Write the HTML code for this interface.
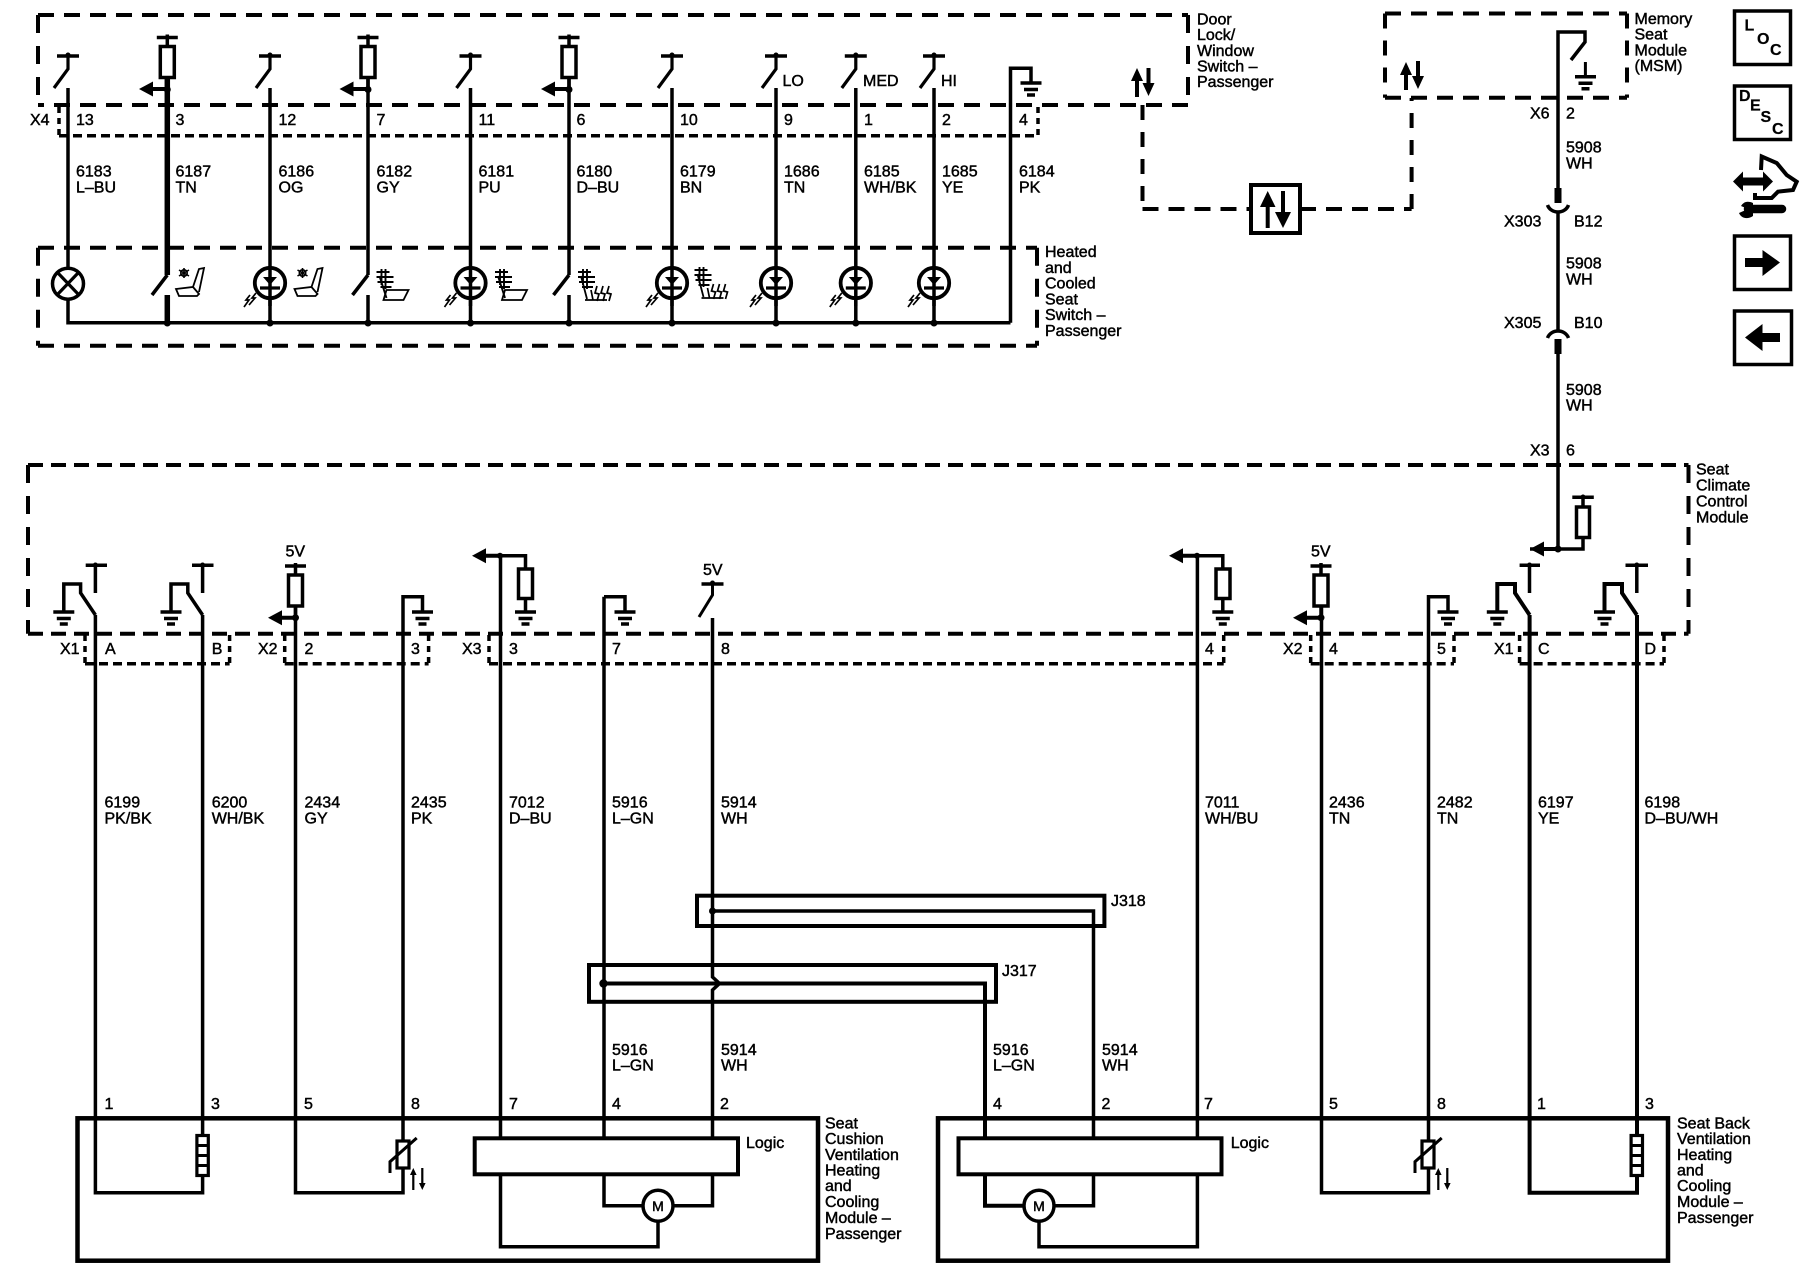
<!DOCTYPE html>
<html><head><meta charset="utf-8"><title>Wiring diagram</title>
<style>
html,body{margin:0;padding:0;background:#fff}
svg{display:block}
text{font-family:"Liberation Sans",sans-serif;font-size:16px;fill:#000;stroke:#000;stroke-width:.45px}
.w{fill:none;stroke:#000;stroke-width:3.5}
.t{fill:none;stroke:#000;stroke-width:5.5}
.n{fill:none;stroke:#000;stroke-width:3}
.d{fill:none;stroke:#000;stroke-width:4;stroke-dasharray:16 10}
.v{fill:none;stroke:#000;stroke-width:4;stroke-dasharray:18 13}
.l{fill:none;stroke:#000;stroke-width:4;stroke-dasharray:15 12}
.s{fill:none;stroke:#000;stroke-width:3.5;stroke-dasharray:9 5}
.c{fill:none;stroke:#000;stroke-width:3.5;stroke-dasharray:6 5}
.m{fill:none;stroke:#000;stroke-width:4.5}
.b{fill:#000;stroke:none}
.i{font-weight:bold;stroke-width:.2px}
</style></head><body>
<svg xmlns="http://www.w3.org/2000/svg" width="1800" height="1280" viewBox="0 0 1800 1280">
<defs>
<g id="gnd"><path d="M-10.500 0H10.500M-7 6.500H7M-4 12H4" fill="none" stroke="#000" stroke-width="3.500"/></g>
<g id="sw"><path d="M-11 0H11" stroke="#000" stroke-width="3.500"/><circle cx="0" cy="-1" r="2.500" fill="#000"/><path d="M0 0V13L-14 32" fill="none" stroke="#000" stroke-width="3.200"/></g>
<g id="fuse"><path d="M-10.500 0H10.500M0 -3V9" stroke="#000" stroke-width="3.500"/><rect x="-7" y="9" width="14" height="31" fill="#fff" stroke="#000" stroke-width="3.500"/><path d="M0 40V52" stroke="#000" stroke-width="3.500"/></g>
<path id="arl" d="M0 0L14 -7.500V-2H28V2H14V7.500Z" fill="#000"/>
<g id="led"><circle cx="0" cy="0" r="15.200" fill="#fff" stroke="#000" stroke-width="3.800"/><path d="M0 -17V23" stroke="#000" stroke-width="3.500"/><path d="M-7 -6H7L0 2Z" fill="#000"/><path d="M-10 5H10" stroke="#000" stroke-width="3.200"/><path d="M-14 10L-18 15L-15 15L-21 22M-20 12L-24 17L-21 17L-26 24" fill="none" stroke="#000" stroke-width="1.700"/></g>
<g id="snow" fill="none" stroke="#000"><path d="M0 22L17 20L23 27L21 29H3ZM17 20L23 2L28 1L23 25" stroke-width="1.800"/><path d="M8 1V11M3 3L13 9M3 9L13 3" stroke-width="1.600"/><circle cx="8" cy="6" r="3.200" stroke-width="1.600"/></g>
<g id="heat" fill="none" stroke="#000"><path d="M11 22H33L28 32H8Z" stroke-width="1.800"/><path d="M4 8L11 30M1 4H14M1 9H18M2 14H18M5 19H16M6 1V17M10 1V21" stroke-width="1.900"/></g>
<g id="heatb" fill="none" stroke="#000"><path d="M8 32H30M4 8L10 31" stroke-width="1.800"/><path d="M1 4H14M1 9H18M2 14H18M5 19H16M6 1V17M10 1V21" stroke-width="1.900"/><path d="M14 22L16 32M20 18L18 25L22 26L20 33M26 18L24 25L28 26L26 33M32 18L30 25L34 26L32 33" stroke-width="1.700"/></g>
<g id="therm" fill="none" stroke="#000"><rect x="-6" y="3" width="12" height="27" fill="#fff" stroke-width="3.200"/><path d="M13.700 0L-13 23.700V35" stroke-width="3"/><path d="M10.300 34V52M19.300 30V48" stroke-width="2.200"/><path d="M10.300 30L7 37H13.600ZM19.300 52L16 45H22.600Z" fill="#000" stroke="none"/></g>
<g id="heater"><rect x="-5.700" y="0" width="11.400" height="40" fill="#fff" stroke="#000" stroke-width="3.200"/><path d="M-5.700 10H5.700M-5.700 20H5.700M-5.700 30H5.700" stroke="#000" stroke-width="3"/></g>
</defs>

<!-- door lock switch box -->
<path class="d" d="M1188 105H38"/><path class="d" d="M38 15H1188"/><path class="v" d="M38 15V105"/><path class="v" d="M1188 15V105"/>
<path class="c" d="M59 107V136"/><path class="s" d="M59 135.700H1038"/><path class="c" d="M1038 107V136"/>

<!-- heated seat switch box -->
<path class="d" d="M38 247.700H1037"/><path class="d" d="M38 345.700H1037"/><path class="v" d="M38 247.700V345.700"/><path class="v" d="M1037 247.700V345.700"/>

<!-- module link dashed -->
<path class="l" d="M1142.500 105V209"/><path class="d" d="M1142.500 209H1250"/><path class="d" d="M1300 209H1411.600"/><path class="l" d="M1411.600 209V98"/>
<rect x="1251" y="185" width="49" height="48" fill="#fff" stroke="#000" stroke-width="4"/>
<path class="b" d="M1267.700 191L1260 207H1265.700V228H1269.700V207H1275.500ZM1283 228L1275 212H1281V191H1285V212H1291Z"/>
<path class="b" d="M1137 68L1131 81H1135V97H1139V81H1143ZM1148.500 96L1142.500 83H1146.500V68H1150.500V83H1154.500Z"/>
<path class="b" d="M1406 62L1400 75H1404V90H1408V75H1412ZM1418 89L1412 76H1416V61H1420V76H1424Z"/>

<!-- top row wires -->
<path class="w" d="M68 88V322.700H1010.500"/>
<path class="t" d="M167.300 78V275"/><path class="t" d="M167.300 295V322"/>
<path class="w" d="M270 88V322"/>
<path class="w" d="M368 78V275"/><path class="w" d="M368 295V322"/>
<path class="w" d="M470.500 88V322"/>
<path class="w" d="M569 78V275"/><path class="w" d="M569 295V322"/>
<path class="w" d="M672 88V322M776 88V322M855.800 88V322M934 88V322"/>
<path class="w" d="M1031 82V68.300H1010.500V322.700"/>
<use href="#gnd" x="1031" y="83"/>

<use href="#sw" x="68" y="56"/><use href="#sw" x="270" y="56"/><use href="#sw" x="470.500" y="56"/><use href="#sw" x="672" y="56"/><use href="#sw" x="776" y="56"/><use href="#sw" x="855.800" y="56"/><use href="#sw" x="934" y="56"/>
<use href="#fuse" x="167.300" y="37.500"/><use href="#fuse" x="368" y="37.500"/><use href="#fuse" x="569" y="37.500"/>
<use href="#arl" x="139" y="89"/><use href="#arl" x="339.500" y="89"/><use href="#arl" x="541" y="89"/>
<g class="b"><circle cx="167.300" cy="89.500" r="3.500"/><circle cx="368" cy="89.500" r="3.500"/><circle cx="569" cy="89.500" r="3.500"/>
<circle cx="167.300" cy="323" r="3.500"/><circle cx="270" cy="323" r="3.500"/><circle cx="368" cy="323" r="3.500"/><circle cx="470.500" cy="323" r="3.500"/><circle cx="569" cy="323" r="3.500"/><circle cx="672" cy="323" r="3.500"/><circle cx="776" cy="323" r="3.500"/><circle cx="855.800" cy="323" r="3.500"/><circle cx="934" cy="323" r="3.500"/></g>

<!-- lamp -->
<ellipse cx="68" cy="283.700" rx="15.500" ry="15.500" fill="#fff" stroke="#000" stroke-width="3.500"/>
<path d="M57 272L79 295M79 272L57 295" stroke="#000" stroke-width="3.200"/>
<!-- lower switches -->
<path class="w" d="M167.300 275L152 295M368 275L352.500 295M569 275L553.500 295"/>
<use href="#led" x="270" y="283"/><use href="#led" x="470.500" y="283"/><use href="#led" x="672" y="283"/><use href="#led" x="776" y="283"/><use href="#led" x="855.800" y="283"/><use href="#led" x="934" y="283"/>
<use href="#snow" x="176" y="267"/><use href="#snow" x="294.500" y="267"/>
<use href="#heat" x="375.500" y="268"/><use href="#heat" x="494" y="268"/>
<use href="#heatb" x="577" y="268"/><use href="#heatb" x="693.500" y="266"/>

<!-- Top row text -->
<text x="30" y="125">X4</text>
<text x="76" y="125">13</text><text x="175.500" y="125">3</text><text x="278.500" y="125">12</text><text x="376.500" y="125">7</text><text x="478.500" y="125">11</text><text x="576.500" y="125">6</text><text x="680" y="125">10</text><text x="784" y="125">9</text><text x="864" y="125">1</text><text x="942" y="125">2</text><text x="1019" y="125">4</text>
<text x="782.500" y="86">LO</text><text x="863" y="86">MED</text><text x="941" y="86">HI</text>
<text x="76" y="176.500">6183<tspan x="76" y="192.300">L–BU</tspan></text>
<text x="175.500" y="176.500">6187<tspan x="175.500" y="192.300">TN</tspan></text>
<text x="278.500" y="176.500">6186<tspan x="278.500" y="192.300">OG</tspan></text>
<text x="376.500" y="176.500">6182<tspan x="376.500" y="192.300">GY</tspan></text>
<text x="478.500" y="176.500">6181<tspan x="478.500" y="192.300">PU</tspan></text>
<text x="576.500" y="176.500">6180<tspan x="576.500" y="192.300">D–BU</tspan></text>
<text x="680" y="176.500">6179<tspan x="680" y="192.300">BN</tspan></text>
<text x="784" y="176.500">1686<tspan x="784" y="192.300">TN</tspan></text>
<text x="864" y="176.500">6185<tspan x="864" y="192.300">WH/BK</tspan></text>
<text x="942" y="176.500">1685<tspan x="942" y="192.300">YE</tspan></text>
<text x="1019" y="176.500">6184<tspan x="1019" y="192.300">PK</tspan></text>

<text x="1197" y="24.500">Door<tspan x="1197" y="40.200">Lock/</tspan><tspan x="1197" y="56">Window</tspan><tspan x="1197" y="71.500">Switch –</tspan><tspan x="1197" y="87.200">Passenger</tspan></text>
<text x="1045" y="257">Heated<tspan x="1045" y="273">and</tspan><tspan x="1045" y="288.700">Cooled</tspan><tspan x="1045" y="304.300">Seat</tspan><tspan x="1045" y="320">Switch –</tspan><tspan x="1045" y="336">Passenger</tspan></text>

<!-- memory seat module -->
<path class="d" d="M1385 13.500H1627"/><path class="d" d="M1385 97.700H1627"/><path class="l" d="M1385 13.500V97.700"/><path class="l" d="M1627 13.500V97.700"/>
<path class="w" d="M1558 190V32H1585V42L1571 60"/>
<path d="M1585.400 62V76" stroke="#000" stroke-width="3"/><use href="#gnd" x="1585.500" y="76.700"/>
<text x="1634.500" y="24">Memory<tspan x="1634.500" y="39.500">Seat</tspan><tspan x="1634.500" y="55.500">Module</tspan><tspan x="1634.500" y="71">(MSM)</tspan></text>
<text x="1530" y="118.300">X6</text><text x="1566" y="118.300">2</text>
<text x="1566" y="152.700">5908<tspan x="1566" y="168.300">WH</tspan></text>
<path d="M1558 188V203" stroke="#000" stroke-width="7"/>
<path d="M1547.500 205A11 10 0 0 0 1568.500 205" fill="none" stroke="#000" stroke-width="3.500"/>
<path class="w" d="M1558 213V330"/>
<text x="1504" y="226.700">X303</text><text x="1574" y="226.700">B12</text>
<text x="1566" y="268.300">5908<tspan x="1566" y="284.300">WH</tspan></text>
<text x="1504" y="328">X305</text><text x="1574" y="328">B10</text>
<path d="M1547.500 338A11 10 0 0 1 1568.500 338" fill="none" stroke="#000" stroke-width="3.500"/>
<path d="M1558 339V354" stroke="#000" stroke-width="7"/>
<path class="w" d="M1558 354V549"/>
<text x="1566" y="395">5908<tspan x="1566" y="410.700">WH</tspan></text>
<text x="1530" y="455.700">X3</text><text x="1566" y="455.700">6</text>

<!-- seat climate box -->
<path class="d" style="stroke-dasharray:15 8" d="M28 465H1688.500"/><path class="d" style="stroke-dasharray:15 8" d="M28 633.700H1688.500"/><path class="v" d="M28 465V633.700"/><path class="v" d="M1688.500 465V633.700"/>
<text x="1696" y="474.300">Seat<tspan x="1696" y="490.300">Climate</tspan><tspan x="1696" y="506.700">Control</tspan><tspan x="1696" y="522.700">Module</tspan></text>
<path class="c" d="M85 635V664M284.700 635V664M428.600 635V664M489 635V664M1223.700 635V664M1310.700 635V664M1454 635V664M1519.600 635V664M1664 635V664M229.600 635V664"/>
<path class="s" d="M85 663.700H229.600"/><path class="s" d="M284.700 663.700H428.600"/><path class="s" d="M489 663.700H1223.700"/><path class="s" d="M1310.700 663.700H1454"/><path class="s" d="M1519.600 663.700H1664"/>

<!-- climate symbols -->
<path class="w" d="M95.400 615V1192.700H202.600V615"/>
<path class="w" d="M63.800 612V584H80.600V593L95.400 615M171 612V584H187.800V593L202.600 615"/>
<use href="#gnd" x="63.800" y="612"/><use href="#gnd" x="171" y="612"/>
<path class="w" d="M85.700 565.300H107M95.400 565V593M192 565.300H213.500M202.600 565V593"/>
<circle cx="95.400" cy="565" r="2.500" class="b"/><circle cx="202.600" cy="565" r="2.500" class="b"/>

<path class="w" d="M295.500 605V1192.700H403V596.700H422.500V612"/>
<use href="#fuse" x="295.500" y="566"/><use href="#arl" x="268" y="617.700"/><circle cx="295.500" cy="617.700" r="3.500" class="b"/>
<use href="#gnd" x="422.500" y="612"/>
<text x="285.500" y="556.700">5V</text>

<path class="w" d="M500.500 556V1246.700H658V1222"/>
<path class="w" d="M500 555.700H525.500V612"/><use href="#arl" x="472" y="555.700"/><circle cx="500" cy="555.700" r="3" class="b"/>
<rect x="518.500" y="569" width="14" height="29.500" fill="#fff" stroke="#000" stroke-width="3.500"/>
<use href="#gnd" x="525.500" y="612"/>

<path class="w" d="M604 612V596.700M604 596.700H625V612M604 596.700V1205.700H642"/>
<use href="#gnd" x="625" y="612"/>

<path class="w" d="M712.500 618V975"/>
<path class="w" d="M701.500 584H723.500"/><path class="n" d="M712.500 584V595L699 617"/><circle cx="712.500" cy="583" r="2.500" class="b"/>
<text x="703" y="575">5V</text>
<text x="105" y="654">A</text>

<path class="w" d="M1197.400 556V1246.700H1039V1222"/>
<path class="w" d="M1197 555.700H1222.800V612"/><use href="#arl" x="1169" y="555.700"/><circle cx="1197" cy="555.700" r="3" class="b"/>
<rect x="1216" y="569" width="14" height="29.500" fill="#fff" stroke="#000" stroke-width="3.500"/>
<use href="#gnd" x="1222.800" y="612"/>

<path class="w" d="M1321.500 605V1192.700H1428.500V596.700H1448V612"/>
<use href="#fuse" x="1321" y="566"/><use href="#arl" x="1293" y="617.700"/><circle cx="1321" cy="617.700" r="3.500" class="b"/>
<use href="#gnd" x="1448" y="612"/>
<text x="1311" y="556.700">5V</text>

<path class="t" style="stroke-width:4" d="M1529.600 615V1192.700H1637V615"/>
<path class="w" style="stroke-width:4" d="M1497.300 612V584H1515V593L1529.600 615M1604.500 612V584H1622V593L1636.800 615"/>
<use href="#gnd" x="1497.300" y="612"/><use href="#gnd" x="1604.500" y="612"/>
<path class="w" d="M1519.600 565.300H1540M1529.500 565V593M1625.500 565.300H1648M1636.800 565V593"/>
<circle cx="1529.500" cy="565" r="2.500" class="b"/><circle cx="1636.800" cy="565" r="2.500" class="b"/>

<path class="w" d="M1530 549H1583V537"/><use href="#arl" x="1530" y="549"/><circle cx="1558" cy="549" r="3.500" class="b"/>
<rect x="1576.500" y="507" width="13" height="30.500" fill="#fff" stroke="#000" stroke-width="3.500"/>
<path class="w" d="M1583 507V497.300M1572.300 497.300H1593.800"/><circle cx="1583" cy="497" r="2.500" class="b"/>

<!-- connector labels -->
<text x="60" y="654">X1</text><text x="211.700" y="654">B</text><text x="258" y="654">X2</text><text x="304.500" y="654">2</text><text x="411" y="654">3</text><text x="462" y="654">X3</text><text x="509" y="654">3</text><text x="612" y="654">7</text><text x="721" y="654">8</text><text x="1205" y="654">4</text><text x="1283" y="654">X2</text><text x="1329" y="654">4</text><text x="1437" y="654">5</text><text x="1494" y="654">X1</text><text x="1538" y="654">C</text><text x="1644.500" y="654">D</text>

<!-- wire labels -->
<text x="104.500" y="807.300">6199<tspan x="104.500" y="823.300">PK/BK</tspan></text>
<text x="211.700" y="807.300">6200<tspan x="211.700" y="823.300">WH/BK</tspan></text>
<text x="304.500" y="807.300">2434<tspan x="304.500" y="823.300">GY</tspan></text>
<text x="411" y="807.300">2435<tspan x="411" y="823.300">PK</tspan></text>
<text x="509" y="807.300">7012<tspan x="509" y="823.300">D–BU</tspan></text>
<text x="612" y="807.300">5916<tspan x="612" y="823.300">L–GN</tspan></text>
<text x="721" y="807.300">5914<tspan x="721" y="823.300">WH</tspan></text>
<text x="1205" y="807.300">7011<tspan x="1205" y="823.300">WH/BU</tspan></text>
<text x="1329" y="807.300">2436<tspan x="1329" y="823.300">TN</tspan></text>
<text x="1437" y="807.300">2482<tspan x="1437" y="823.300">TN</tspan></text>
<text x="1538" y="807.300">6197<tspan x="1538" y="823.300">YE</tspan></text>
<text x="1644.500" y="807.300">6198<tspan x="1644.500" y="823.300">D–BU/WH</tspan></text>

<!-- J318 / J317 -->
<rect x="697" y="895.700" width="407.400" height="30.300" class="m" style="stroke-width:4"/>
<circle cx="712.500" cy="911" r="3.500" class="b"/>
<path class="w" d="M712.500 911H1093.500V1205.700H1055"/>
<rect x="589" y="965" width="407" height="36.800" class="m" style="stroke-width:4"/>
<path d="M604 983.500H985V1205.700H1023" fill="none" stroke="#000" stroke-width="4"/>
<circle cx="603.500" cy="983.500" r="4.200" class="b"/>
<path d="M712.500 975V977L719.500 983.500L712.500 990V992" fill="none" stroke="#000" stroke-width="3.500"/>
<path class="w" d="M712.500 992V1205.700H674"/>
<text x="1111" y="906">J318</text><text x="1002" y="976">J317</text>

<text x="612" y="1055">5916<tspan x="612" y="1070.700">L–GN</tspan></text>
<text x="721" y="1055">5914<tspan x="721" y="1070.700">WH</tspan></text>
<text x="993" y="1055">5916<tspan x="993" y="1070.700">L–GN</tspan></text>
<text x="1102" y="1055">5914<tspan x="1102" y="1070.700">WH</tspan></text>

<!-- module pins -->
<text x="104.500" y="1109">1</text><text x="211" y="1109">3</text><text x="304" y="1109">5</text><text x="411" y="1109">8</text><text x="509" y="1109">7</text><text x="612" y="1109">4</text><text x="720" y="1109">2</text>
<text x="993" y="1109">4</text><text x="1101.500" y="1109">2</text><text x="1204" y="1109">7</text><text x="1329" y="1109">5</text><text x="1437" y="1109">8</text><text x="1537" y="1109">1</text><text x="1645" y="1109">3</text>

<!-- modules -->
<rect x="77.500" y="1118.300" width="740.500" height="142.400" class="m"/>
<rect x="938" y="1118.300" width="730" height="142.400" class="m"/>
<rect x="474.700" y="1138.300" width="263.300" height="36" fill="#fff" stroke="#000" stroke-width="4"/>
<rect x="958.500" y="1138.300" width="263" height="36" fill="#fff" stroke="#000" stroke-width="4"/>
<text x="746" y="1148">Logic</text><text x="1230.700" y="1148">Logic</text>
<ellipse cx="658" cy="1205.700" rx="15" ry="15.500" fill="#fff" stroke="#000" stroke-width="3.500"/>
<ellipse cx="1039" cy="1205.700" rx="15" ry="15.500" fill="#fff" stroke="#000" stroke-width="3.500"/>
<text x="658" y="1211" text-anchor="middle" style="font-size:14px">M</text>
<text x="1039" y="1211" text-anchor="middle" style="font-size:14px">M</text>
<use href="#heater" x="202.600" y="1135.500"/><use href="#heater" x="1636.800" y="1135.500"/>
<use href="#therm" x="403" y="1138"/><use href="#therm" x="1428" y="1138"/>

<text x="825" y="1128.300">Seat<tspan x="825" y="1144">Cushion</tspan><tspan x="825" y="1160">Ventilation</tspan><tspan x="825" y="1175.500">Heating</tspan><tspan x="825" y="1191">and</tspan><tspan x="825" y="1207">Cooling</tspan><tspan x="825" y="1223">Module –</tspan><tspan x="825" y="1239">Passenger</tspan></text>
<text x="1677" y="1128.300">Seat Back<tspan x="1677" y="1144">Ventilation</tspan><tspan x="1677" y="1160">Heating</tspan><tspan x="1677" y="1175.500">and</tspan><tspan x="1677" y="1191">Cooling</tspan><tspan x="1677" y="1207">Module –</tspan><tspan x="1677" y="1223">Passenger</tspan></text>

<!-- right icons -->
<rect x="1734.500" y="11" width="56" height="53.500" fill="none" stroke="#000" stroke-width="3.500"/>
<rect x="1734.500" y="86" width="56" height="53.500" fill="none" stroke="#000" stroke-width="3.500"/>
<rect x="1734.500" y="236" width="56" height="53.500" fill="none" stroke="#000" stroke-width="3.500"/>
<rect x="1734.500" y="311" width="57" height="53.500" fill="none" stroke="#000" stroke-width="3.500"/>
<text class="i" x="1744.500" y="30.700">L</text><text class="i" x="1757" y="44">O</text><text class="i" x="1770" y="55">C</text>
<text class="i" x="1739" y="101">D</text><text class="i" x="1750" y="110.700">E</text><text class="i" x="1760.500" y="122">S</text><text class="i" x="1772" y="134">C</text>
<path class="b" d="M1745 258H1762.500V250L1780 262.500L1762.500 276V267H1745Z"/>
<path class="b" d="M1780 333H1762.500V324L1745 337.500L1762.500 351V342H1780Z"/>
<path class="b" d="M1733 181.500L1743 171.500V177.500H1763V171.500L1773 181.500L1763 191.500V185.500H1743V191.500Z"/>
<path d="M1761 170L1761.700 156.500L1776.700 163L1786.700 175L1796.700 181.700L1793 190L1778 191.700L1771.700 198H1755V193" fill="none" stroke="#000" stroke-width="4"/>
<path d="M1748 209H1782" stroke="#000" stroke-width="8.500" stroke-linecap="round"/>
<path d="M1753 203C1746 200 1743 203 1741 206L1748 209L1739 213C1741 218 1747 220 1753 216Z" fill="#000"/>
</svg>
</body></html>
